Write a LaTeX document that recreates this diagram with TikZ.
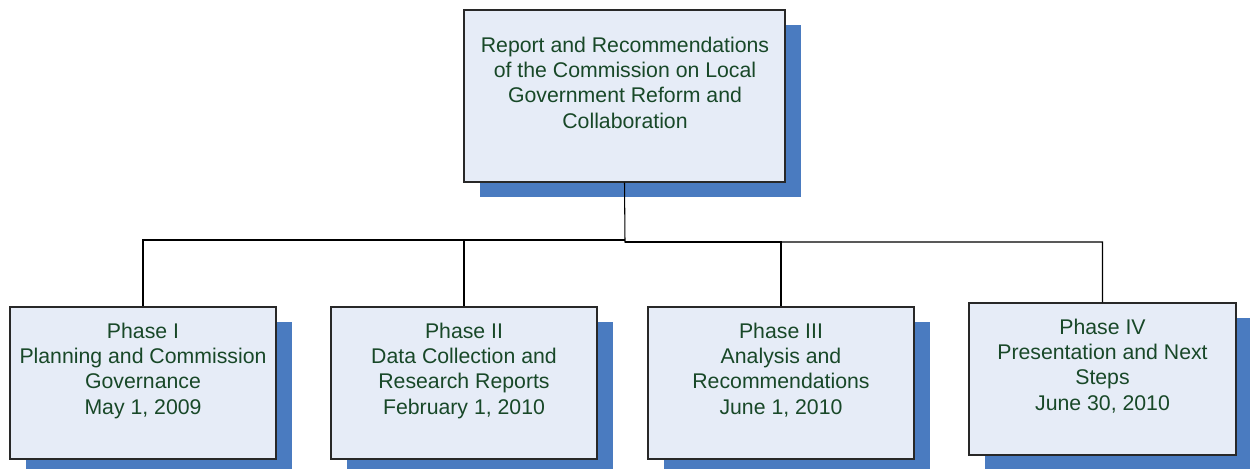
\documentclass[tikz,border=0pt]{standalone}
\usepackage{fontspec}
\setmainfont{Liberation Sans}
\usetikzlibrary{fit}
\definecolor{boxfill}{RGB}{230,236,247}
\definecolor{shadowblue}{RGB}{74,123,192}
\definecolor{txtgreen}{RGB}{24,72,40}
\definecolor{edgegray}{RGB}{40,40,40}
\begin{document}
\begin{tikzpicture}[x=0.02cm,y=-0.02cm,
  box/.style={draw=edgegray, fill=boxfill, line width=0.6pt, inner sep=0pt,
    preaction={fill=shadowblue, draw=none, transform canvas={shift={(16,15.5)}}}},
  txt/.style={text=txtgreen, align=center, inner sep=0pt, anchor=north,
    font=\fontsize{12.1}{14.4}\selectfont},
  conn/.style={draw=black, line width=0.6pt}]
\useasboundingbox (0,0) rectangle (1250,469);
\begin{scope}
\clip (0,0) rectangle (1250,469);
\node[box, fit={(464,10) (785,182)}] (top) {};
\node[box, fit={(10,307) (276,459)}] (p1) {};
\node[box, fit={(331,307) (597,459)}] (p2) {};
\node[box, fit={(648,307) (914,459)}] (p3) {};
\node[box, fit={(969,303) (1236,455)}] (p4) {};
\end{scope}
\node[txt] (t0) at (625,36.5) {Report and Recommendations\\of the Commission on Local\\Government Reform and\\Collaboration};
\node[txt] (t1) at (143,322.5) {Phase I\\Planning and Commission\\Governance\\May 1, 2009};
\node[txt] (t2) at (464,322.5) {Phase II\\Data Collection and\\Research Reports\\February 1, 2010};
\node[txt] (t3) at (781,322.5) {Phase III\\Analysis and\\Recommendations\\June 1, 2010};
\node[txt] (t4) at (1102.5,318.5) {Phase IV\\Presentation and Next\\Steps\\June 30, 2010};
\coordinate (jl) at (625,240);
\coordinate (jr) at (625,242);
\draw[conn] (top.south) -- (jr) -| (p4.north);
\draw[conn] (jr) -| (p3.north);
\draw[conn] (p1.north) |- (jl);
\draw[conn] (p2.north) |- (jl);
\end{tikzpicture}
\end{document}
